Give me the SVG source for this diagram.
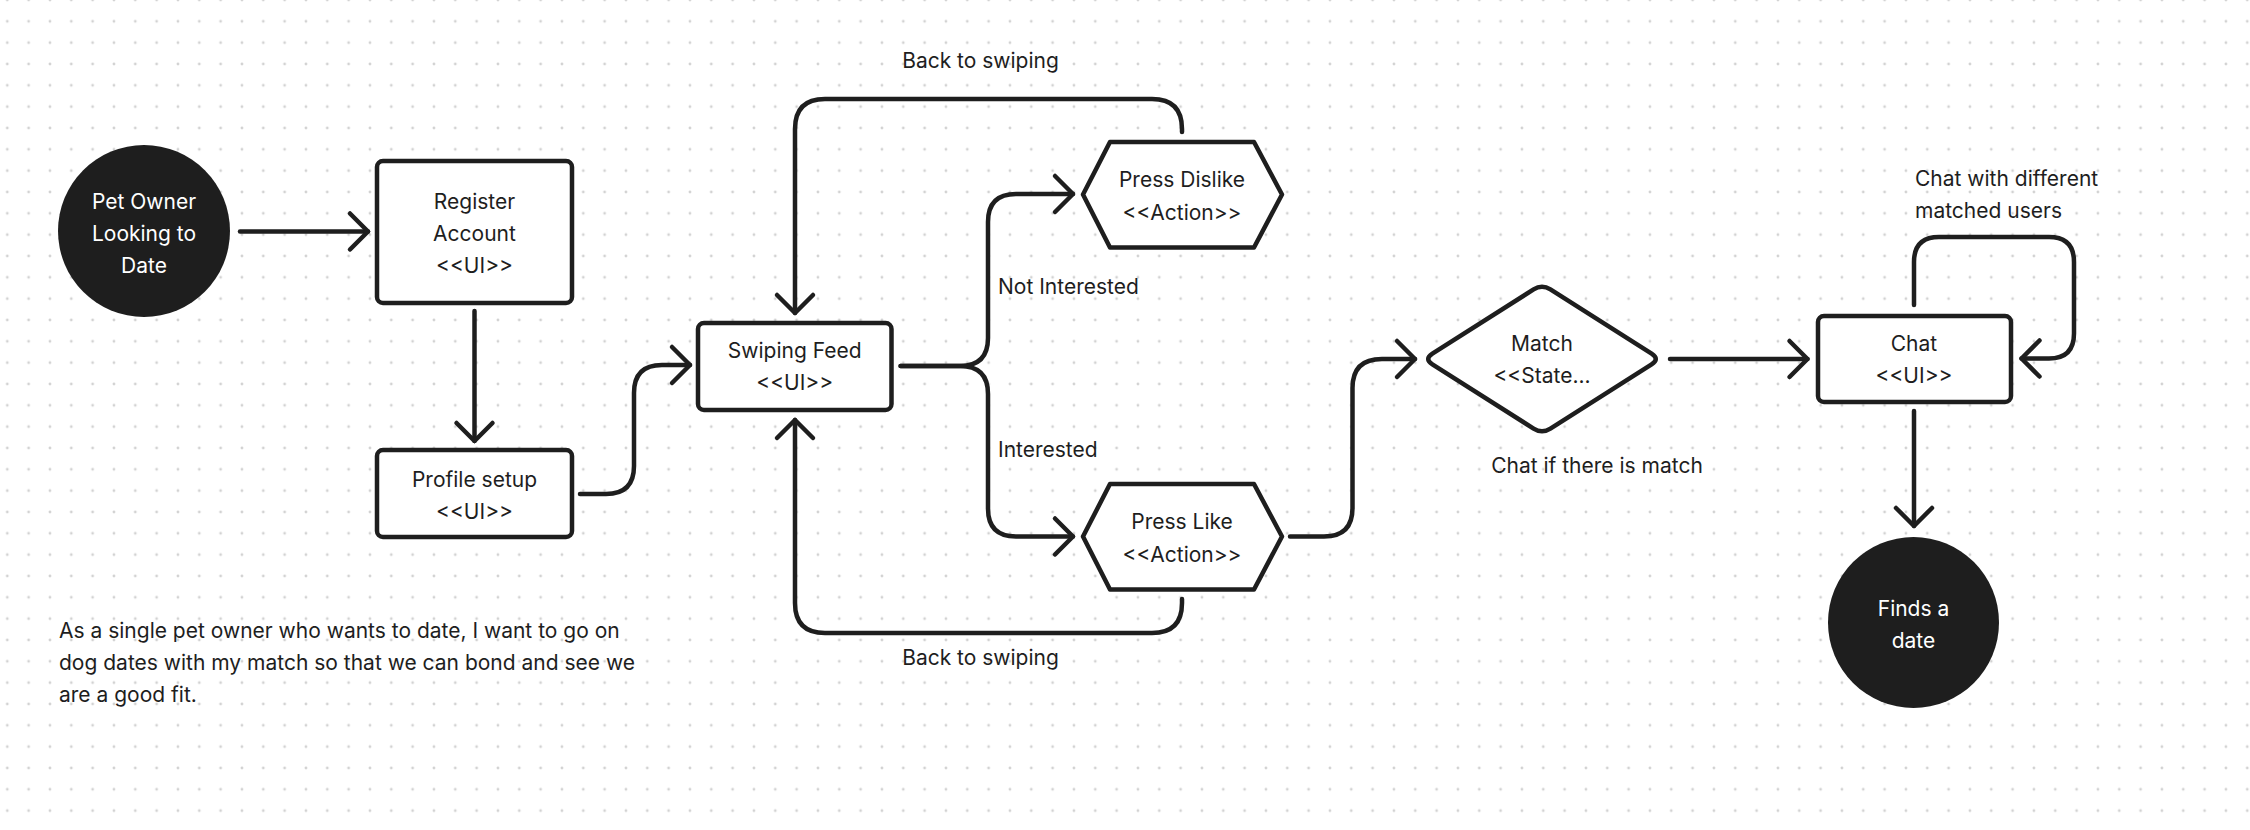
<svg xmlns="http://www.w3.org/2000/svg" width="2250" height="830" viewBox="0 0 2250 830">
<style>
.bg{fill:#ffffff}
.node{fill:#ffffff;stroke:#1e1e1e;stroke-width:4.5;stroke-linejoin:round}
.term{fill:#1e1e1e}
.t{font-family:Inter,"Noto Sans","Liberation Sans",sans-serif;font-size:21px;fill:#1e1e1e;text-anchor:middle;dominant-baseline:central}
.tw{fill:#ffffff}
.lbl{font-family:Inter,"Noto Sans","Liberation Sans",sans-serif;font-size:21px;fill:#1e1e1e;dominant-baseline:central}
.mid{text-anchor:middle}
.c{fill:none;stroke:#1e1e1e;stroke-width:4.5;stroke-linecap:round;stroke-linejoin:round;marker-end:url(#arr)}
</style>
<defs>
<pattern id="dots" x="-3.37" y="-10.667" width="21.333" height="21.333" patternUnits="userSpaceOnUse">
<circle cx="10.667" cy="10.667" r="1.4" fill="#d2d2d2"/>
</pattern>
<marker id="arr" markerUnits="userSpaceOnUse" viewBox="-24 -24 30 48" refX="0" refY="0" markerWidth="30" markerHeight="48" orient="auto" overflow="visible">
<path d="M-18,-18 L0,0 L-18,18" fill="none" stroke="#1e1e1e" stroke-width="4.5" stroke-linecap="round" stroke-linejoin="round"/>
</marker>
</defs>
<rect class="bg" x="0" y="0" width="2250" height="830"/>
<rect x="0" y="0" width="2250" height="830" fill="url(#dots)"/>

<g id="connectors">
<path class="c" d="M240,231.5 L368,231.5"/>
<path class="c" d="M474.5,311 L474.5,441"/>
<path class="c" d="M580,494 L606,494 Q634,494 634,466 L634,393 Q634,365 662,365 L690,365"/>
<path class="c" d="M1182,132 L1182,129 Q1182,99 1152,99 L825,99 Q795,99 795,129 L795,313"/>
<path class="c" d="M1182,599 L1182,603 Q1182,633 1152,633 L825,633 Q795,633 795,603 L795,420"/>
<path class="c" d="M900.6,366 L960,366 Q988,366 988,338 L988,222 Q988,194 1016,194 L1073,194"/>
<path class="c" d="M900.6,366 L960,366 Q988,366 988,394 L988,508.5 Q988,536.5 1016,536.5 L1073,536.5"/>
<path class="c" d="M1290,536.5 L1324,536.5 Q1352.5,536.5 1352.5,508 L1352.5,388 Q1352.5,359 1382,359 L1415,359"/>
<path class="c" d="M1670,359 L1807.5,359"/>
<path class="c" d="M1914,305 L1914,262 Q1914,237 1939,237 L2049,237 Q2074,237 2074,262 L2074,333.5 Q2074,358.5 2049,358.5 L2021.5,358.5"/>
<path class="c" d="M1914,411 L1914,526"/>
</g>

<g id="start">
<circle class="term" cx="144" cy="231" r="86"/>
<text class="t tw" x="144" y="201.7">Pet Owner</text>
<text class="t tw" x="144" y="233">Looking to</text>
<text class="t tw" x="144" y="265">Date</text>
</g>

<g id="register">
<rect class="node" x="377" y="161" width="195" height="142" rx="6"/>
<text class="t" x="474.5" y="201.7">Register</text>
<text class="t" x="474.5" y="233">Account</text>
<text class="t" x="474.5" y="265">&lt;&lt;UI&gt;&gt;</text>
</g>

<g id="profile">
<rect class="node" x="377" y="450" width="195" height="87" rx="6"/>
<text class="t" x="474.5" y="479">Profile setup</text>
<text class="t" x="474.5" y="511">&lt;&lt;UI&gt;&gt;</text>
</g>

<g id="swiping">
<rect class="node" x="698" y="323" width="193.5" height="87" rx="6"/>
<text class="t" x="794.7" y="350">Swiping Feed</text>
<text class="t" x="794.7" y="382">&lt;&lt;UI&gt;&gt;</text>
</g>

<g id="dislike">
<polygon class="node" points="1083,194.5 1110,142 1254,142 1282,194.5 1254,247.5 1110,247.5"/>
<text class="t" x="1182" y="179.5">Press Dislike</text>
<text class="t" x="1182" y="212">&lt;&lt;Action&gt;&gt;</text>
</g>

<g id="like">
<polygon class="node" points="1083,536.5 1110,484 1254,484 1282,536.5 1254,589.5 1110,589.5"/>
<text class="t" x="1182" y="521">Press Like</text>
<text class="t" x="1182" y="554">&lt;&lt;Action&gt;&gt;</text>
</g>

<g id="match">
<path class="node" d="M1432.4,353.6 L1533.6,289.4 Q1542,284 1550.4,289.4 L1651.6,353.6 Q1660,359 1651.6,364.4 L1550.4,428.6 Q1542,434 1533.6,428.6 L1432.4,364.4 Q1424,359 1432.4,353.6 Z"/>
<text class="t" x="1542" y="343.8">Match</text>
<text class="t" x="1542" y="375.5">&lt;&lt;State...</text>
</g>

<g id="chat">
<rect class="node" x="1818" y="316" width="193" height="86" rx="6"/>
<text class="t" x="1914" y="343.8">Chat</text>
<text class="t" x="1914" y="375.5">&lt;&lt;UI&gt;&gt;</text>
</g>

<g id="finds">
<circle class="term" cx="1913.5" cy="622.5" r="85.5"/>
<text class="t tw" x="1913.5" y="608">Finds a</text>
<text class="t tw" x="1913.5" y="640">date</text>
</g>

<g id="labels">
<text class="lbl mid" x="980.5" y="60.4">Back to swiping</text>
<text class="lbl mid" x="980.5" y="657.2">Back to swiping</text>
<text class="lbl" x="998" y="286">Not Interested</text>
<text class="lbl" x="998" y="449">Interested</text>
<text class="lbl mid" x="1597" y="465.6">Chat if there is match</text>
<text class="lbl" x="1915" y="178.3">Chat with different</text>
<text class="lbl" x="1915" y="210.7">matched users</text>
</g>

<g id="note">
<text class="lbl" x="59" y="630.7">As a single pet owner who wants to date, I want to go on</text>
<text class="lbl" x="59" y="662.3">dog dates with my match so that we can bond and see we</text>
<text class="lbl" x="59" y="694">are a good fit.</text>
</g>
</svg>
